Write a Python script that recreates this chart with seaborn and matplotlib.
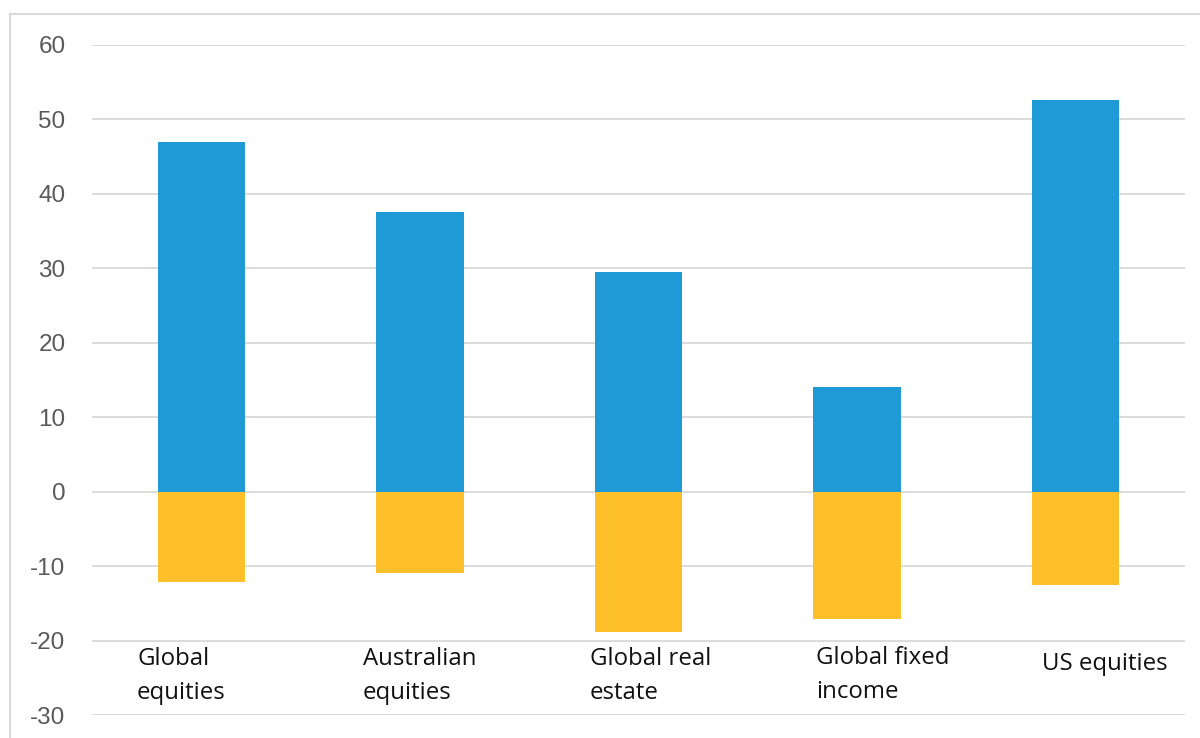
import matplotlib
matplotlib.use("Agg")
import matplotlib.pyplot as plt
from matplotlib.lines import Line2D
import seaborn as sns
import pandas as pd

# ---- data ----
categories = ["Global\nequities", "Australian\nequities", "Global real\nestate",
              "Global fixed\nincome", "US equities"]
best_returns = [47.0, 37.6, 29.5, 14.0, 52.6]
worst_returns = [-12.2, -11.0, -18.8, -17.1, -12.6]
y_ticks = [-30, -20, -10, 0, 10, 20, 30, 40, 50, 60]

# ---- layout (not data) ----
label_dx = [-0.294, -0.260, -0.222, -0.187, -0.155]
label_y = [-24.8, -24.8, -24.8, -24.6, -23.2]

sns.set_theme(style="white")
plt.rcParams["font.family"] = ["Liberation Sans", "DejaVu Sans"]

fig = plt.figure(figsize=(12, 7.38), dpi=100)
ax = fig.add_axes([92 / 1200, 1 - 715 / 738, (1185 - 92) / 1200, (715 - 44.7) / 738])

df = pd.DataFrame({"cat": categories, "best": best_returns, "worst": worst_returns})
sns.barplot(data=df, x="cat", y="best", order=categories, color="#209AD6",
            width=0.4, saturation=1, edgecolor="none", ax=ax)
sns.barplot(data=df, x="cat", y="worst", order=categories, color="#FDBF2A",
            width=0.4, saturation=1, edgecolor="none", ax=ax)

ax.set_ylim(-30, 60)
ax.set_xlim(-0.5, len(categories) - 0.5)
ax.set_yticks(y_ticks)
ax.set_yticklabels([str(t) for t in y_ticks], fontsize=17.5, color="#595959")
ax.tick_params(axis="y", length=0, pad=19)
ax.set_xticks([])
ax.set_xlabel("")
ax.set_ylabel("")
ax.yaxis.grid(True, color="#d9d9d9", linewidth=1.3)
ax.set_axisbelow(True)
for s in ax.spines.values():
    s.set_visible(False)

for i, lab in enumerate(categories):
    ax.text(i + label_dx[i], label_y[i], lab, ha="left", va="center",
            fontsize=17.3, color="#111111", linespacing=1.55,
            family=["Open Sans", "DejaVu Sans"])

# outer chart frame
fig.add_artist(Line2D([10 / 1200, 10 / 1200], [0, 1 - 14 / 738],
                      transform=fig.transFigure, color="#d9d9d9", lw=1.5))
fig.add_artist(Line2D([10 / 1200, 1], [1 - 14 / 738, 1 - 14 / 738],
                      transform=fig.transFigure, color="#d9d9d9", lw=1.5))

fig.savefig("out.png", dpi=100)
